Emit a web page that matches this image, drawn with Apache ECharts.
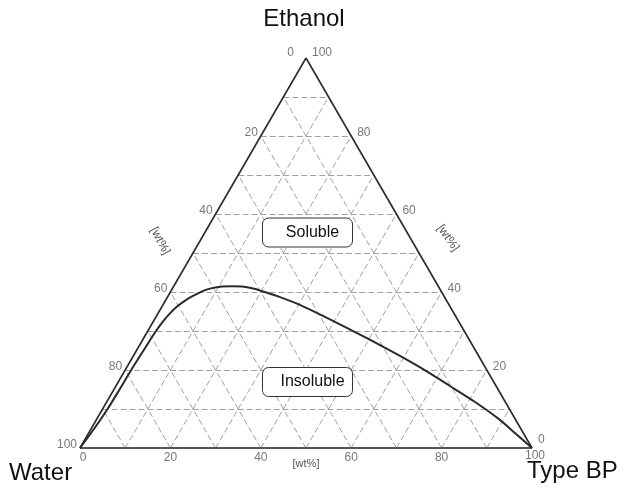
<!DOCTYPE html>
<html>
<head>
<meta charset="utf-8">
<script src="https://cdn.jsdelivr.net/npm/echarts@6/dist/echarts.min.js"></script>
<style>html,body{margin:0;padding:0;background:#fff}#c{width:622px;height:488px}</style>
</head>
<body>
<div id="c"></div>
<script>
// Ternary data (wt%)
const gridTicks = [10, 20, 30, 40, 50, 60, 70, 80, 90];
const labelTicks = [0, 20, 40, 60, 80, 100];
const vertexNames = ['Water', 'Ethanol', 'Type BP'];
const axisUnit = '[wt%]';
const regionNames = ['Soluble', 'Insoluble'];
// Binodal curve: ethanol wt% and Type BP wt%
const curveEthanol = [0, 5, 10, 15, 20, 25, 30, 32.3, 34.4, 36.4, 38.0, 39.0, 40.3, 41.0, 41.4, 41.5, 41.4, 41.0, 40.4, 38.7, 36.7, 33.6, 30.4, 27.1, 23.6, 19.9, 15.9, 11.8, 7.4, 3.7, 0];
const curveTypeBP = [0, 0.66, 1.1, 1.25, 1.33, 1.55, 1.81, 2.1, 2.6, 3.4, 4.5, 5.5, 7.1, 8.7, 10.7, 12.9, 15.1, 17.3, 19.6, 24.9, 30.3, 37.4, 44.5, 51.7, 59.0, 66.4, 73.9, 81.5, 89.0, 94.5, 100];

const S3 = Math.sqrt(3) / 2;
function toXY(e, b) { return [b + e / 2, e * S3]; }

const gridLines = [];
gridTicks.forEach(k => {
  gridLines.push({ coords: [toXY(k, 0), toXY(k, 100 - k)] });          // constant ethanol
  gridLines.push({ coords: [toXY(0, k), toXY(100 - k, k)] });          // constant Type BP
  gridLines.push({ coords: [toXY(0, 100 - k), toXY(100 - k, 0)] });    // constant water
});

const edgeLines = [
  { coords: [toXY(0, 0), toXY(100, 0)] },
  { coords: [toXY(100, 0), toXY(0, 100)] }
];
const baseLine = [{ coords: [toXY(0, 0), toXY(0, 100)] }];

const curveData = curveEthanol.map((e, i) => toXY(e, curveTypeBP[i]));

const lblFont = { fontFamily: 'Liberation Sans, Arial, sans-serif', fontSize: 12, color: '#555' };
const leftLabels = labelTicks.map(t => ({ value: toXY(100 - t, 0), name: String(t),
  label: t === 0 ? { distance: 12, offset: [0, -5] } : {} }));
const rightLabels = labelTicks.map(t => ({ value: toXY(t, 100 - t), name: String(t),
  label: t === 100 ? { offset: [0, -5] } : (t === 0 ? { offset: [0, -8] } : {}) }));
const bottomLabels = labelTicks.map(t => ({ value: toXY(0, t), name: String(t),
  label: t === 0 ? { offset: [3, 0] } : (t === 100 ? { offset: [3, -2] } : {}) }));

function labelSeries(data, position, distance, offset) {
  return {
    type: 'scatter', symbolSize: 0, data: data, silent: true, z: 5,
    label: Object.assign({ show: true, position: position, distance: distance, offset: offset,
      formatter: p => p.name }, lblFont)
  };
}

const chart = echarts.init(document.getElementById('c'), null, { renderer: 'canvas' });
const FF = 'Liberation Sans, Arial, sans-serif';
const bigFont = { fontFamily: FF, fontSize: 24, fill: '#111' };
const boxText = { fontFamily: FF, fontSize: 16, fill: '#111' };

function box(cx, cy, txt) {
  return [
    { type: 'rect', shape: { x: cx - 45, y: cy - 14.5, width: 90, height: 29, r: 6 },
      style: { fill: '#fff', stroke: '#333', lineWidth: 1 }, z: 10 },
    { type: 'text', x: cx + 5, y: cy, z: 11,
      style: Object.assign({ text: txt, textAlign: 'center', textVerticalAlign: 'middle' }, boxText) }
  ];
}

chart.setOption({
  animation: false,
  backgroundColor: '#fff',
  grid: { left: 80, right: 90, top: 58, bottom: 40 },
  xAxis: { type: 'value', min: 0, max: 100, show: false },
  yAxis: { type: 'value', min: 0, max: 100 * S3, show: false },
  series: [
    { type: 'lines', coordinateSystem: 'cartesian2d', silent: true, z: 1,
      lineStyle: { color: '#a0a0a0', width: 1, type: [6, 3], opacity: 1 }, data: gridLines },
    { type: 'lines', coordinateSystem: 'cartesian2d', silent: true, z: 3,
      lineStyle: { color: '#2a2a2a', width: 1.6, opacity: 1 }, data: edgeLines },
    { type: 'lines', coordinateSystem: 'cartesian2d', silent: true, z: 3,
      lineStyle: { color: '#555', width: 2, opacity: 1 }, data: baseLine },
    { type: 'line', data: curveData, smooth: 0.3, symbol: 'none', silent: true, z: 4,
      lineStyle: { color: '#2a2a2a', width: 2 } },
    labelSeries(leftLabels, 'left', 3, [0, -3]),
    labelSeries(rightLabels, 'right', 6, [0, -3]),
    labelSeries(bottomLabels, 'bottom', 4, [0, 0])
  ],
  graphic: [
    { type: 'text', x: 304, y: 19, style: Object.assign({ text: vertexNames[1], textAlign: 'center', textVerticalAlign: 'middle' }, bigFont) },
    { type: 'text', x: 9, y: 473, style: Object.assign({ text: vertexNames[0], textAlign: 'left', textVerticalAlign: 'middle' }, bigFont) },
    { type: 'text', x: 527, y: 471, style: Object.assign({ text: vertexNames[2], textAlign: 'left', textVerticalAlign: 'middle' }, bigFont) },
    { type: 'text', x: 306, y: 464, style: { text: axisUnit, textAlign: 'center', textVerticalAlign: 'middle', fontFamily: FF, fontSize: 11, fill: '#555' } },
    { type: 'text', x: 160, y: 241, rotation: -62 * Math.PI / 180, style: { text: axisUnit, textAlign: 'center', textVerticalAlign: 'middle', fontFamily: FF, fontSize: 12, fill: '#555' } },
    { type: 'text', x: 448, y: 238, rotation: -55 * Math.PI / 180, style: { text: axisUnit, textAlign: 'center', textVerticalAlign: 'middle', fontFamily: FF, fontSize: 12, fill: '#555' } }
  ].concat(box(307.5, 232.5, regionNames[0]), box(307.5, 382, regionNames[1]))
});
</script>
</body>
</html>
